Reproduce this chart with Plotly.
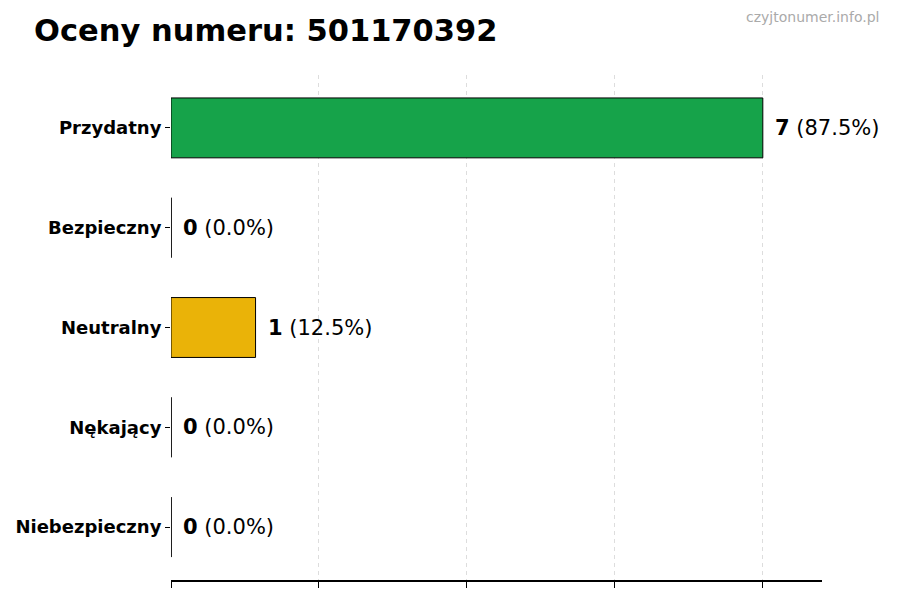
import plotly.graph_objects as go

categories = ["Przydatny", "Bezpieczny", "Neutralny", "Nękający", "Niebezpieczny"]
counts = [7, 0, 1, 0, 0]
percents = [87.5, 0.0, 12.5, 0.0, 0.0]
colors = ["#16a34a", "#3b82f6", "#eab308", "#f97316", "#dc2626"]
x_ticks = [0, 1.75, 3.5, 5.25, 7]

FONT = "DejaVu Sans"

fig = go.Figure()
fig.add_trace(
    go.Bar(
        y=categories,
        x=counts,
        orientation="h",
        width=0.6,
        marker=dict(color=colors, line=dict(color="black", width=1)),
        hoverinfo="skip",
    )
)

# thin outline for empty bars
for idx, val in enumerate(counts):
    if val == 0:
        fig.add_shape(
            type="line", xref="x", yref="y",
            x0=val, x1=val, y0=idx - 0.3, y1=idx + 0.3,
            line=dict(color="black", width=1),
        )

for cat, val, pct in zip(categories, counts, percents):
    fig.add_annotation(
        x=val, y=cat, xref="x", yref="y",
        text=f"<b>{val}</b> ({pct:.1f}%)",
        showarrow=False, xanchor="left", xshift=10,
        font=dict(family=FONT, size=21, color="black"),
    )

fig.update_layout(
    width=900, height=600,
    margin=dict(l=163, r=86, t=67, b=28),
    paper_bgcolor="white", plot_bgcolor="white",
    showlegend=False,
    title=dict(
        text="<b>Oceny numeru: 501170392</b>",
        x=0.029, xanchor="left", y=0.963, yanchor="middle",
        font=dict(family=FONT, size=30.5, color="black"),
    ),
    font=dict(family=FONT),
)
fig.add_annotation(
    text="czyjtonumer.info.pl", xref="paper", yref="paper",
    x=1.0906, y=1.115, xanchor="right", yanchor="middle", showarrow=False,
    font=dict(family=FONT, size=14, color="#aaaaaa"),
)
fig.update_xaxes(
    range=[0, 7.7], tickvals=x_ticks, showticklabels=False,
    ticks="outside", ticklen=6, tickcolor="black",
    showgrid=True, gridcolor="#dddddd", griddash="4px,4px", gridwidth=1,
    showline=True, linecolor="black", linewidth=1.5, zeroline=False,
    automargin=False,
)
fig.update_yaxes(
    range=[4.53, -0.53], type="category",
    ticks="outside", ticklen=5, tickcolor="black",
    tickfont=dict(family=FONT, size=18, color="black"),
    showgrid=False, showline=False, zeroline=False,
    tickvals=categories, ticktext=[f"<b>{c}</b>" for c in categories],
    automargin=False,
)

fig.write_html("out.html")
